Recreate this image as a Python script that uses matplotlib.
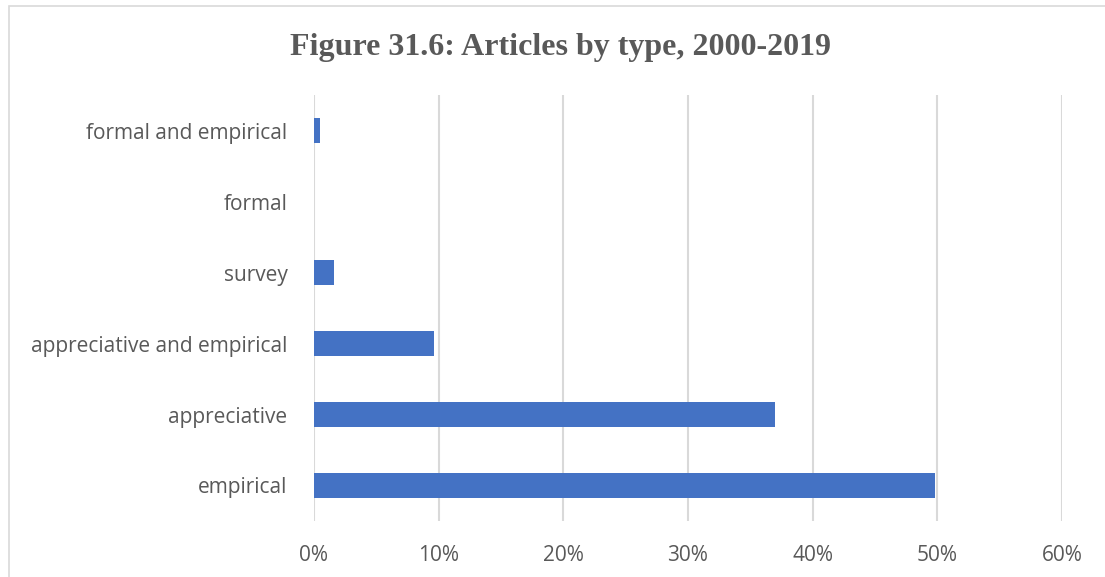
import matplotlib
matplotlib.use("Agg")
import matplotlib.pyplot as plt
from matplotlib.patches import Rectangle
from matplotlib.ticker import FuncFormatter

categories = ["empirical", "appreciative", "appreciative and empirical", "survey", "formal", "formal and empirical"]
shares = [49.8, 37.0, 9.6, 1.6, 0.0, 0.5]
xticks = [0, 10, 20, 30, 40, 50, 60]

TXT = "#595959"
BLUE = "#4472c4"

fig = plt.figure(figsize=(11.05, 5.77), dpi=100)
fig.patches.append(Rectangle((9 / 1105, -0.1), 1.2, 1.1 - 6 / 577, transform=fig.transFigure,
                             fill=False, edgecolor="#d9d9d9", linewidth=1.2))
ax = fig.add_axes([314 / 1105, 1 - 521 / 577, (1062 - 314) / 1105, (521 - 95) / 577])

ax.barh(range(len(categories)), shares, height=0.35, color=BLUE, zorder=3)
ax.set_xlim(0, 60)
ax.set_ylim(-0.5, len(categories) - 0.5)
ax.set_xticks(xticks)
ax.xaxis.set_major_formatter(FuncFormatter(lambda v, p: f"{v:.0f}%"))
ax.set_yticks(range(len(categories)))
ax.set_yticklabels(categories)
ax.grid(axis="x", color="#d9d9d9", linewidth=1.5, zorder=0)
for s in ax.spines.values():
    s.set_visible(False)
ax.tick_params(length=0, labelsize=15, labelcolor=TXT)
ax.tick_params(axis="y", pad=19)
ax.tick_params(axis="x", pad=17)
for lb in ax.get_xticklabels() + ax.get_yticklabels():
    lb.set_family("Open Sans")

fig.text(0.507, 1 - 47 / 577, "Figure 31.6: Articles by type, 2000-2019", ha="center", va="center",
         fontsize=23, fontweight="bold", family="Liberation Serif", color=TXT)

fig.savefig("out.png", dpi=100)
